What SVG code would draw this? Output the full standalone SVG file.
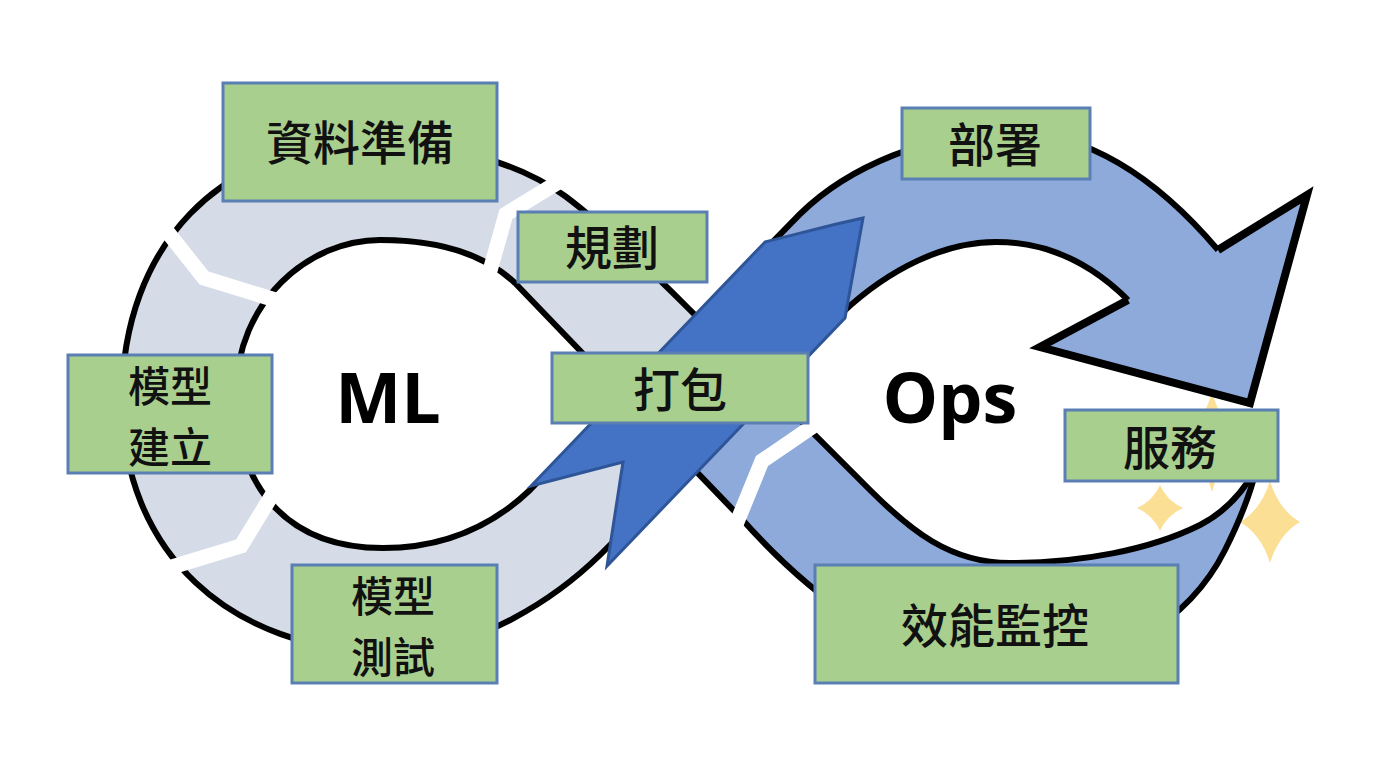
<svg xmlns="http://www.w3.org/2000/svg" width="1395" height="768" viewBox="0 0 1395 768">
<style>
.box rect{fill:#a9cf8e;stroke:#5a7fb3;stroke-width:3}
.lbl{font-family:"Noto Sans CJK TC","Noto Sans CJK SC",sans-serif;font-size:47px;font-weight:500;text-anchor:middle;fill:#111}
.lbl2{font-size:42px}
.big{font-family:"Open Sans","Liberation Sans",sans-serif;font-size:70px;font-weight:700;text-anchor:middle;fill:#000}
.edge{fill:none;stroke:#000;stroke-width:6;stroke-linejoin:round}
.cut{fill:none;stroke:#fff;stroke-width:15;stroke-linejoin:miter}
.star{fill:#f9db88;opacity:0.9}
</style>
<rect width="1395" height="768" fill="#fff"/>
<g id="sparkles">
<path class="star" d="M1212,392 Q1222,428 1247,440 Q1222,452 1212,492 Q1202,452 1177,440 Q1202,428 1212,392 Z"/>
<path class="star" d="M1160,485 Q1167,501 1183,508 Q1167,515 1160,531 Q1153,515 1137,508 Q1153,501 1160,485 Z"/>
<path class="star" d="M1270,481 Q1279,510 1300,522 Q1279,534 1270,563 Q1261,534 1240,522 Q1261,510 1270,481 Z"/>
</g>
<g id="connectors">
<path id="ops-upper-band" fill="#8eaadb" d="M623,394 L800,214 C850,165 930,134 1005,132 C1080,130 1150,170 1218,250 L1307,195 L1250,403 L1040,347 L1128,300 C1090,262 1045,242 996,242 C945,242 890,268 842,313 L766,387 Z"/>
<path id="ops-lower-band" fill="#8eaadb" d="M766,387 L870,490 C910,530 950,563 1010,563 C1080,563 1150,550 1200,525 C1225,512 1243,492 1255,470 L1256,470 C1250,495 1240,520 1225,550 C1190,620 1110,672 1010,672 C900,672 800,585 740,517 L623,394 Z"/>
<path id="ml-band" fill="#d5dce7" fill-rule="evenodd" d="M766,387 L600,555 C560,594 480,652 390,652 C229,652 122,551 122,400 C122,246 221,143 370,143 C445,143 515,160 565,196 C600,222 650,270 687,307 Z M623,394 L530,490 C490,528 440,548 383,548 C290,548 236,490 236,395 C236,300 310,240 380,240 C430,240 480,250 515,283 Z"/>
<path class="edge" d="M1128,300 C1090,262 1045,242 996,242 C945,242 890,268 842,313 L600,555 C560,594 480,652 390,652 C229,652 122,551 122,400 C122,246 221,143 370,143 C445,143 515,160 565,196 C600,222 650,270 687,307 L870,490 C910,530 950,563 1010,563 C1080,563 1150,550 1200,525 C1225,512 1243,492 1255,470"/>
<path class="edge" d="M1218,250 C1150,170 1080,130 1005,132 C930,134 850,165 800,214 L530,490 C490,528 440,548 383,548 C290,548 236,490 236,395 C236,300 310,240 380,240 C430,240 480,250 515,283 L740,517 C800,585 900,672 1010,672 C1110,672 1190,620 1225,550 C1240,520 1250,495 1256,470"/>
<path class="edge" style="stroke-width:8;stroke-linejoin:miter" d="M1218,250 L1307,195 L1250,403 L1040,347 L1128,300"/>
<polyline class="cut" points="158,220 204,278 282,302"/>
<polyline class="cut" points="280,482 241,546 162,570"/>
<polyline class="cut" points="565,178 506,214 484,292"/>
<polyline class="cut" points="822,420 762,461 735,527"/>
<path id="handoff-arrow" fill="#4472c4" stroke="#2e5597" stroke-width="3" stroke-linejoin="miter" d="M531,486 L765,242 C798,234 830,225 863,218 L845,318 L607,566 L623,462 Z"/>
</g>
<text class="big" x="388" y="423">ML</text>
<text class="big" x="950" y="423">Ops</text>
<g id="node-data-prep" class="box"><rect x="223" y="83" width="274" height="118"/><text class="lbl" x="360" y="160">資料準備</text></g>
<g id="node-planning" class="box"><rect x="518" y="212" width="189" height="70"/><text class="lbl" x="612" y="265">規劃</text></g>
<g id="node-model-build" class="box"><rect x="68" y="355" width="204" height="118"/><text class="lbl lbl2" x="170" y="402">模型</text><text class="lbl lbl2" x="170" y="463">建立</text></g>
<g id="node-package" class="box"><rect x="552" y="353" width="256" height="70"/><text class="lbl" x="680" y="407">打包</text></g>
<g id="node-model-test" class="box"><rect x="292" y="565" width="205" height="118"/><text class="lbl lbl2" x="393" y="612">模型</text><text class="lbl lbl2" x="393" y="673">測試</text></g>
<g id="node-deploy" class="box"><rect x="902" y="108" width="188" height="71"/><text class="lbl" x="995" y="162">部署</text></g>
<g id="node-serve" class="box"><rect x="1065" y="410" width="213" height="71"/><text class="lbl" x="1170" y="465">服務</text></g>
<g id="node-monitor" class="box"><rect x="815" y="565" width="363" height="118"/><text class="lbl" x="995" y="643">效能監控</text></g>
</svg>
